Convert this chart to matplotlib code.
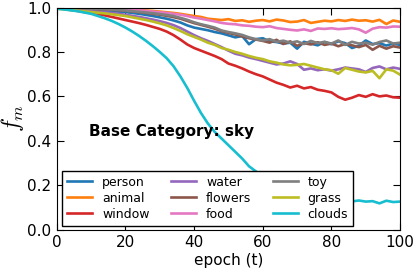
import numpy as np
import matplotlib
matplotlib.use('Agg')
import matplotlib.pyplot as plt

# epochs (sampled every 2)
epochs = np.arange(0, 101, 2)

person = [1.0, 0.998, 0.996, 0.994, 0.992, 0.990, 0.988, 0.986, 0.984, 0.982, 0.980,
          0.976, 0.972, 0.967, 0.962, 0.956, 0.950, 0.942, 0.933, 0.920,
          0.910, 0.904, 0.898, 0.890, 0.884, 0.875, 0.866, 0.872, 0.835, 0.858,
          0.862, 0.848, 0.845, 0.838, 0.842, 0.815, 0.846, 0.838, 0.830, 0.845,
          0.835, 0.848, 0.840, 0.818, 0.828, 0.852, 0.836, 0.840, 0.829, 0.838, 0.832]
animal = [1.0, 1.0, 0.999, 0.999, 0.998, 0.998, 0.997, 0.996, 0.995, 0.994, 0.993,
          0.991, 0.989, 0.987, 0.985, 0.982, 0.979, 0.976, 0.972, 0.967,
          0.962, 0.958, 0.950, 0.947, 0.944, 0.948, 0.940, 0.943, 0.936, 0.941,
          0.944, 0.938, 0.946, 0.942, 0.935, 0.937, 0.944, 0.931, 0.936, 0.941,
          0.938, 0.944, 0.940, 0.946, 0.941, 0.943, 0.937, 0.945, 0.926, 0.942, 0.936]
window = [1.0, 0.995, 0.990, 0.985, 0.980, 0.975, 0.970, 0.965, 0.958, 0.951, 0.944,
          0.937, 0.930, 0.922, 0.913, 0.904, 0.892, 0.876, 0.856, 0.834,
          0.818, 0.806, 0.794, 0.782, 0.768, 0.748, 0.738, 0.726, 0.712, 0.700,
          0.690, 0.676, 0.662, 0.652, 0.640, 0.648, 0.636, 0.642, 0.630, 0.625,
          0.618, 0.598, 0.585, 0.594, 0.606, 0.598, 0.610, 0.600, 0.604, 0.596, 0.594]
water = [1.0, 0.997, 0.994, 0.991, 0.988, 0.985, 0.982, 0.979, 0.976, 0.972, 0.968,
         0.963, 0.958, 0.952, 0.946, 0.939, 0.931, 0.921, 0.908, 0.892,
         0.876, 0.862, 0.850, 0.836, 0.822, 0.806, 0.792, 0.785, 0.775, 0.768,
         0.760, 0.752, 0.744, 0.748, 0.758, 0.746, 0.720, 0.726, 0.718, 0.722,
         0.716, 0.722, 0.730, 0.726, 0.722, 0.710, 0.728, 0.735, 0.722, 0.730, 0.724]
flowers = [1.0, 0.999, 0.998, 0.997, 0.996, 0.995, 0.993, 0.992, 0.990, 0.988, 0.986,
           0.983, 0.980, 0.976, 0.972, 0.968, 0.963, 0.957, 0.950, 0.940,
           0.930, 0.922, 0.914, 0.905, 0.894, 0.886, 0.879, 0.870, 0.862, 0.856,
           0.850, 0.842, 0.855, 0.836, 0.848, 0.828, 0.840, 0.834, 0.844, 0.832,
           0.838, 0.826, 0.836, 0.830, 0.822, 0.832, 0.810, 0.828, 0.815, 0.826, 0.820]
food = [1.0, 1.0, 0.999, 0.998, 0.998, 0.997, 0.996, 0.995, 0.994, 0.993, 0.992,
        0.990, 0.988, 0.985, 0.982, 0.979, 0.976, 0.972, 0.968, 0.962,
        0.955, 0.950, 0.944, 0.938, 0.931, 0.927, 0.925, 0.920, 0.918, 0.914,
        0.912, 0.916, 0.908, 0.904, 0.900, 0.897, 0.902, 0.895, 0.906, 0.904,
        0.907, 0.903, 0.905, 0.908, 0.902, 0.887, 0.905, 0.912, 0.910, 0.915, 0.914]
toy = [1.0, 0.999, 0.998, 0.997, 0.996, 0.995, 0.994, 0.993, 0.991, 0.989, 0.987,
       0.984, 0.981, 0.978, 0.975, 0.971, 0.967, 0.962, 0.954, 0.945,
       0.934, 0.925, 0.918, 0.910, 0.897, 0.890, 0.884, 0.877, 0.866, 0.858,
       0.852, 0.858, 0.846, 0.851, 0.842, 0.848, 0.836, 0.850, 0.840, 0.846,
       0.838, 0.852, 0.832, 0.846, 0.838, 0.842, 0.833, 0.845, 0.852, 0.838, 0.842]
grass = [0.995, 0.992, 0.989, 0.986, 0.983, 0.980, 0.977, 0.974, 0.970, 0.966, 0.962,
         0.956, 0.950, 0.944, 0.937, 0.929, 0.920, 0.908, 0.895, 0.880,
         0.868, 0.856, 0.842, 0.832, 0.818, 0.810, 0.800, 0.792, 0.782, 0.774,
         0.768, 0.758, 0.752, 0.744, 0.740, 0.742, 0.746, 0.738, 0.730, 0.722,
         0.718, 0.702, 0.728, 0.720, 0.712, 0.708, 0.715, 0.682, 0.722, 0.716, 0.698]
clouds = [0.995, 0.992, 0.988, 0.984, 0.978, 0.972, 0.962, 0.952, 0.940, 0.926, 0.910,
          0.892, 0.872, 0.850, 0.826, 0.800, 0.772, 0.736, 0.690, 0.638,
          0.580, 0.525, 0.478, 0.440, 0.410, 0.380, 0.350, 0.320, 0.285, 0.262,
          0.240, 0.218, 0.198, 0.180, 0.165, 0.152, 0.144, 0.138, 0.134, 0.132,
          0.130, 0.128, 0.131, 0.127, 0.131, 0.126, 0.128, 0.118, 0.130, 0.124, 0.126]

names = ['person', 'animal', 'window', 'water', 'flowers', 'food', 'toy', 'grass', 'clouds']
series = [person, animal, window, water, flowers, food, toy, grass, clouds]
colors = ['#1f77b4', '#ff7f0e', '#d62728', '#9467bd', '#8c564b',
          '#e377c2', '#7f7f7f', '#bcbd22', '#17becf']

plt.rcParams['mathtext.fontset'] = 'cm'
plt.rcParams['xtick.direction'] = 'in'
plt.rcParams['ytick.direction'] = 'in'
plt.rcParams['xtick.top'] = True
plt.rcParams['ytick.right'] = True

fig = plt.figure(figsize=(4.15, 2.72), dpi=100)
ax = fig.add_axes([0.137, 0.156, 0.827, 0.816])

for name, vals, c in zip(names, series, colors):
    ax.plot(epochs, vals, color=c, lw=1.9, label=name)

ax.set_xlim(0, 100)
ax.set_ylim(0, 1.0)
ax.set_xticks([0, 20, 40, 60, 80, 100])
ax.set_yticks([0.0, 0.2, 0.4, 0.6, 0.8, 1.0])
ax.tick_params(labelsize=11, length=5, pad=4)
ax.set_xlabel('epoch (t)', fontsize=11)
ax.xaxis.set_label_coords(0.5, -0.105)
ax.set_ylabel('$f_m$', fontsize=17)
ax.yaxis.set_label_coords(-0.09, 0.5)

ax.text(9.5, 0.44, 'Base Category: sky', fontsize=11, fontweight='bold',
        va='center', ha='left')

leg = ax.legend(ncol=3, loc='lower left', fontsize=9, fancybox=False,
                framealpha=1, edgecolor='black', borderaxespad=0.3,
                handlelength=2.0, columnspacing=1.7, labelspacing=0.25,
                bbox_to_anchor=(0.005, 0.0))
leg.get_frame().set_linewidth(1.0)

fig.savefig('out.png', dpi=100)
